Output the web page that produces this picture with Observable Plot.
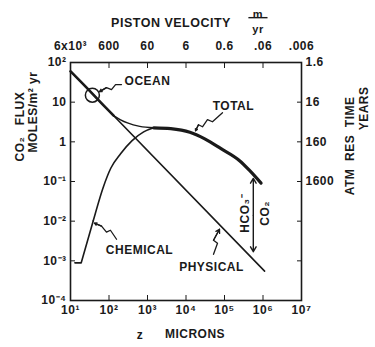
<!DOCTYPE html>
<html><head><meta charset="utf-8">
<script src="https://cdn.jsdelivr.net/npm/d3@7"></script>
<script src="https://cdn.jsdelivr.net/npm/@observablehq/plot@0.6"></script>
<style>body{margin:0;background:#fff}</style>
</head><body><div id="chart"></div>
<script>
// axis ticks and labels
const zTicks = [1e1, 1e2, 1e3, 1e4, 1e5, 1e6, 1e7];
const zTickLabels = ["10¹", "10²", "10³", "10⁴", "10⁵", "10⁶", "10⁷"];
const velocityLabels = ["6x10³", "600", "60", "6", "0.6", ".06", ".006"];
const fluxTicks = [1e2, 1e1, 1, 1e-1, 1e-2, 1e-3, 1e-4];
const fluxTickLabels = ["10²", "10", "1", "10⁻¹", "10⁻²", "10⁻³", "10⁻⁴"];
const resTicks = [1e2, 1e1, 1, 1e-1, 1e-2, 1e-3];
const resTickLabels = ["1.6", "16", "160", "1600", "", ""];

// series (z in microns, flux in moles/m2 yr)
const physicalZ = [10, 1.1e6];
const physicalFlux = [60, 5.5e-4];
const chemicalZ = [13, 19, 39, 71, 112, 200, 398, 794, 1450];
const chemicalFlux = [8.9e-4, 8.9e-4, 0.0102, 0.072, 0.219, 0.50, 1.07, 1.78, 2.26];
const totalZ = [10, 32, 79, 132, 200, 302, 631, 1450, 4000, 12600, 31600, 79400, 251000, 447000, 891000];
const totalFlux = [60, 19, 7.6, 4.6, 3.6, 3.0, 2.45, 2.26, 2.15, 1.74, 1.17, 0.68, 0.33, 0.19, 0.091];

// annotations (data coordinates)
const oceanZ = [37], oceanFlux = [15];
const labelText = ["OCEAN", "TOTAL", "CHEMICAL", "PHYSICAL"];
const labelZ = [1000, 1.7e5, 620, 4.6e4];
const labelFlux = [33, 8.1, 1.86e-3, 6.9e-4];
const oceanPointer = [[211, 27.7], [148, 27.7], [116, 20.7], [86, 23.3], [57, 18.5]];
const totalPointer = [[88700, 5.42], [48700, 3.21], [36100, 3.61], [26800, 2.40], [21100, 2.69], [17700, 1.90]];
const chemicalPointer = [[157, 3.5e-3], [109, 5.9e-3], [86, 5.3e-3], [64, 7.5e-3], [42, 8.9e-3]];
const physicalPointer = [[51800, 1.46e-3], [65800, 2.77e-3], [51800, 3.3e-3], [74100, 6.26e-3]];
const ratioZ = 5.6e5, ratioTop = 0.12, ratioBottom = 1.7e-3, ratioMid = 0.014;
const ratioText = ["HCO₃⁻", "CO₂"];
const ratioTextZ = [3.5e5, 1.15e6];
const ratioTextFlux = [0.0158, 0.0158];
// fraction bar of the "m / yr" unit in the top title (data coordinates, above the frame)
const unitBarZ = [4.3e5, 1.35e6], unitBarFlux = 1350;

const zip = (xs, ys) => xs.map((x, i) => ({x, y: ys[i]}));
const physical = zip(physicalZ, physicalFlux);
const chemical = zip(chemicalZ, chemicalFlux);
const total = zip(totalZ, totalFlux);
const labels = labelText.map((t, i) => ({t, x: labelZ[i], y: labelFlux[i]}));
const pointers = [oceanPointer, totalPointer, chemicalPointer, physicalPointer];
const pointerHeads = pointers.map(p => ({x1: p[p.length - 2][0], y1: p[p.length - 2][1], x2: p[p.length - 1][0], y2: p[p.length - 1][1]}));
const mapOf = (ks, vs) => new Map(ks.map((k, i) => [k, vs[i]]));
const zLab = mapOf(zTicks, zTickLabels), vLab = mapOf(zTicks, velocityLabels);
const fLab = mapOf(fluxTicks, fluxTickLabels), rLab = mapOf(resTicks, resTickLabels);

const ink = "#1a1a1a";
const chart = Plot.plot({
  width: 375, height: 347,
  marginLeft: 70, marginRight: 74, marginTop: 62, marginBottom: 47,
  x: {type: "log", domain: [10, 1e7]},
  y: {type: "log", domain: [1e-4, 1e2]},
  style: {fontFamily: "Liberation Sans, Arial, sans-serif", fontSize: "12px", fontWeight: "bold", color: ink, background: "#fff", letterSpacing: "0.5px"},
  marks: [
    Plot.line(physical, {x: "x", y: "y", stroke: ink, strokeWidth: 1.6}),
    Plot.line(chemical.slice(0, 3), {x: "x", y: "y", stroke: ink, strokeWidth: 1.6}),
    Plot.line(chemical.slice(2), {x: "x", y: "y", stroke: ink, strokeWidth: 1.6, curve: "monotone-x"}),
    Plot.line(total.slice(0, 4), {x: "x", y: "y", stroke: ink, strokeWidth: 2.6, curve: "monotone-x"}),
    Plot.line(total.slice(3, 8), {x: "x", y: "y", stroke: ink, strokeWidth: 1.4, curve: "monotone-x"}),
    Plot.line(total.slice(7), {x: "x", y: "y", stroke: ink, strokeWidth: 3.2, curve: "monotone-x"}),
    Plot.dot(oceanZ.map((z, i) => ({x: z, y: oceanFlux[i]})), {x: "x", y: "y", r: 7, stroke: ink, strokeWidth: 1.5, fill: "none"}),
    ...pointers.map(p => Plot.line(p, {x: d => d[0], y: d => d[1], stroke: ink, strokeWidth: 1.3})),
    Plot.arrow(pointerHeads, {x1: "x1", y1: "y1", x2: "x2", y2: "y2", stroke: ink, strokeWidth: 1.3, headLength: 6}),
    Plot.arrow([{x: ratioZ, y1: ratioMid, y2: ratioTop}, {x: ratioZ, y1: ratioMid, y2: ratioBottom}], {x1: "x", x2: "x", y1: "y1", y2: "y2", stroke: ink, strokeWidth: 1.4, headLength: 6}),
    Plot.text(labels, {x: "x", y: "y", text: "t", fill: ink, letterSpacing: "1px"}),
    Plot.text(ratioText.map((t, i) => ({t, x: ratioTextZ[i], y: ratioTextFlux[i]})), {x: "x", y: "y", text: "t", rotate: -90, fill: ink}),
    // axes
    Plot.axisX(zTicks, {anchor: "bottom", tickSize: -5, tickPadding: 10, tickFormat: d => zLab.get(d), label: null, stroke: ink}),
    Plot.axisX(zTicks, {anchor: "top", tickSize: -5, tickPadding: 18, tickFormat: d => vLab.get(d), label: null, stroke: ink}),
    Plot.axisY(fluxTicks, {anchor: "left", tickSize: -5, tickPadding: 9, tickFormat: d => fLab.get(d), label: null, stroke: ink}),
    Plot.axisY(resTicks, {anchor: "right", tickSize: -5, tickPadding: 9, tickFormat: d => rLab.get(d), label: null, stroke: ink}),
    Plot.frame({stroke: ink, strokeWidth: 1.6}),
    // titles
    Plot.text(["PISTON VELOCITY"], {frameAnchor: "top", dx: -15, dy: -44, text: d => d, fontSize: 12.5, letterSpacing: "1px"}),
    Plot.text(["m"], {frameAnchor: "top", dx: 72, dy: -52, text: d => d, fontSize: 11}),
    Plot.ruleY([unitBarFlux], {x1: unitBarZ[0], x2: unitBarZ[1], stroke: ink, strokeWidth: 1.4, clip: false}),
    Plot.text(["yr"], {frameAnchor: "top", dx: 72, dy: -37, text: d => d, fontSize: 11}),
    Plot.text(["CO₂   FLUX"], {frameAnchor: "left", dx: -50, dy: -20, rotate: -90, text: d => d, letterSpacing: "1px"}),
    Plot.text(["MOLES/m² yr"], {frameAnchor: "left", dx: -37, dy: -29, rotate: -90, text: d => d}),
    Plot.text(["ATM  RES  TIME"], {frameAnchor: "right", dx: 49, dy: -85, rotate: -90, text: d => d, letterSpacing: "1px"}),
    Plot.text(["YEARS"], {frameAnchor: "right", dx: 63, dy: -95, rotate: -90, text: d => d}),
    Plot.text(["z"], {frameAnchor: "bottom", dx: -46, dy: 38, text: d => d}),
    Plot.text(["MICRONS"], {frameAnchor: "bottom", dx: 9, dy: 37, text: d => d, letterSpacing: "1px"})
  ]
});
document.getElementById("chart").appendChild(chart);
</script>
</body></html>
